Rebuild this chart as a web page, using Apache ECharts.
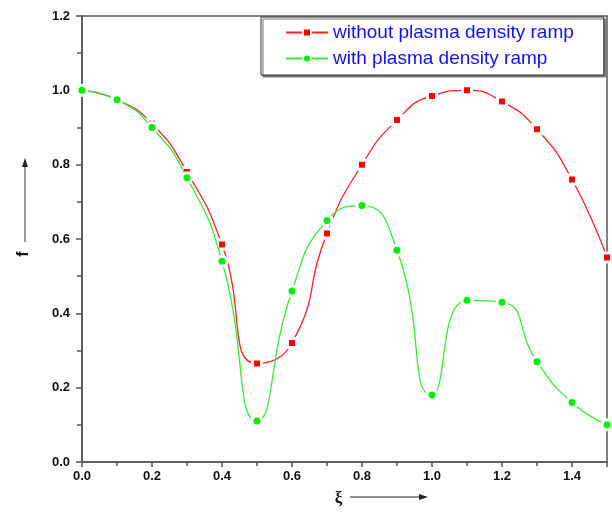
<!DOCTYPE html>
<html>
<head>
<meta charset="utf-8">
<script src="https://cdn.jsdelivr.net/npm/echarts@6/dist/echarts.min.js"></script>
<style>html,body{margin:0;padding:0;background:#fff}#c{width:612px;height:526px}</style>
</head>
<body>
<div id="c"></div>
<script>
var xValues = [0.0, 0.1, 0.2, 0.3, 0.4, 0.5, 0.6, 0.7, 0.8, 0.9, 1.0, 1.1, 1.2, 1.3, 1.4, 1.5];
var withoutRamp = [1.0, 0.975, 0.91, 0.78, 0.585, 0.265, 0.32, 0.615, 0.80, 0.92, 0.985, 1.0, 0.97, 0.895, 0.76, 0.55];
var withRamp = [1.0, 0.975, 0.90, 0.765, 0.54, 0.11, 0.46, 0.65, 0.69, 0.57, 0.18, 0.435, 0.43, 0.27, 0.16, 0.10];
var seriesNames = ['without plasma density ramp', 'with plasma density ramp'];
var xTicks = ['0.0', '0.2', '0.4', '0.6', '0.8', '1.0', '1.2', '1.4'];
var yTicks = ['0.0', '0.2', '0.4', '0.6', '0.8', '1.0', '1.2'];

function pairs(ys) { return xValues.map(function (x, i) { return [x, ys[i]]; }); }

var chart = echarts.init(document.getElementById('c'), null, { renderer: 'canvas' });
var axisFont = { fontFamily: 'Liberation Sans, Arial, sans-serif', fontWeight: 'bold', fontSize: 13, color: '#111' };
chart.setOption({
  animation: false,
  backgroundColor: '#fff',
  grid: { left: 82, right: 5, top: 16, bottom: 64, show: true, borderColor: '#555', borderWidth: 1.5 },
  xAxis: {
    type: 'value', min: 0, max: 1.5, interval: 0.2,
    name: 'ξ', nameLocation: 'middle', nameGap: 28,
    nameTextStyle: { fontFamily: 'Liberation Serif, serif', fontWeight: 'bold', fontSize: 17, color: '#111', padding: [0, 12, 0, 0] },
    axisLine: { onZero: false, lineStyle: { color: '#555', width: 1.5 } },
    axisTick: { show: true, inside: false, length: 5, lineStyle: { color: '#555', width: 1.5 } },
    minorTick: { show: true, splitNumber: 2, length: 4, lineStyle: { color: '#555', width: 1.5 } },
    splitLine: { show: false },
    axisLabel: Object.assign({ margin: 8, formatter: function (v) { var s = v.toFixed(1); return xTicks.indexOf(s) >= 0 ? s : ''; } }, axisFont)
  },
  yAxis: {
    type: 'value', min: 0, max: 1.2, interval: 0.2,
    name: 'f', nameLocation: 'middle', nameGap: 50, nameRotate: 90,
    nameTextStyle: { fontFamily: 'Liberation Sans, Arial, sans-serif', fontWeight: 'bold', fontSize: 16, color: '#111', padding: [0, 30, 0, 0] },
    axisLine: { lineStyle: { color: '#555', width: 1.5 } },
    axisTick: { show: true, inside: false, length: 6, lineStyle: { color: '#555', width: 1.5 } },
    minorTick: { show: true, splitNumber: 2, length: 5, lineStyle: { color: '#555', width: 1.5 } },
    splitLine: { show: false },
    axisLabel: Object.assign({ margin: 12, formatter: function (v) { var s = v.toFixed(1); return yTicks.indexOf(s) >= 0 ? s : ''; } }, axisFont)
  },
  legend: {
    orient: 'vertical', left: 261, top: 17,
    padding: [6, 30, 7, 24], itemGap: 7, itemWidth: 42, itemHeight: 10,
    backgroundColor: '#fff', borderColor: '#333', borderWidth: 1,
    shadowColor: '#777', shadowOffsetX: 2, shadowOffsetY: 2, shadowBlur: 0,
    textStyle: { fontFamily: 'Liberation Sans, Arial, sans-serif', fontSize: 19, color: '#1010ff' },
    data: seriesNames
  },
  graphic: [
    { type: 'line', shape: { x1: 350, y1: 497, x2: 420, y2: 497 }, style: { stroke: '#222', lineWidth: 1.2 } },
    { type: 'polygon', shape: { points: [[428, 497], [419, 494], [419, 500]] }, style: { fill: '#222' } },
    { type: 'line', shape: { x1: 25, y1: 242, x2: 25, y2: 166 }, style: { stroke: '#555', lineWidth: 1.2 } },
    { type: 'polygon', shape: { points: [[25, 158], [22, 167], [28, 167]] }, style: { fill: '#222' } }
  ],
  series: [
    {
      name: seriesNames[0], type: 'line', data: pairs(withoutRamp), smooth: 0.55,
      symbol: 'rect', symbolSize: 9, z: 2,
      lineStyle: { color: '#ff2020', width: 1.3 },
      itemStyle: { color: '#ff0000', borderColor: '#fff', borderWidth: 3 }
    },
    {
      name: seriesNames[1], type: 'line', data: pairs(withRamp), smooth: 0.55,
      symbol: 'circle', symbolSize: 10, z: 3,
      lineStyle: { color: '#33ee33', width: 1.3 },
      itemStyle: { color: '#00ee00', borderColor: '#fff', borderWidth: 3 }
    }
  ]
});
</script>
</body>
</html>
